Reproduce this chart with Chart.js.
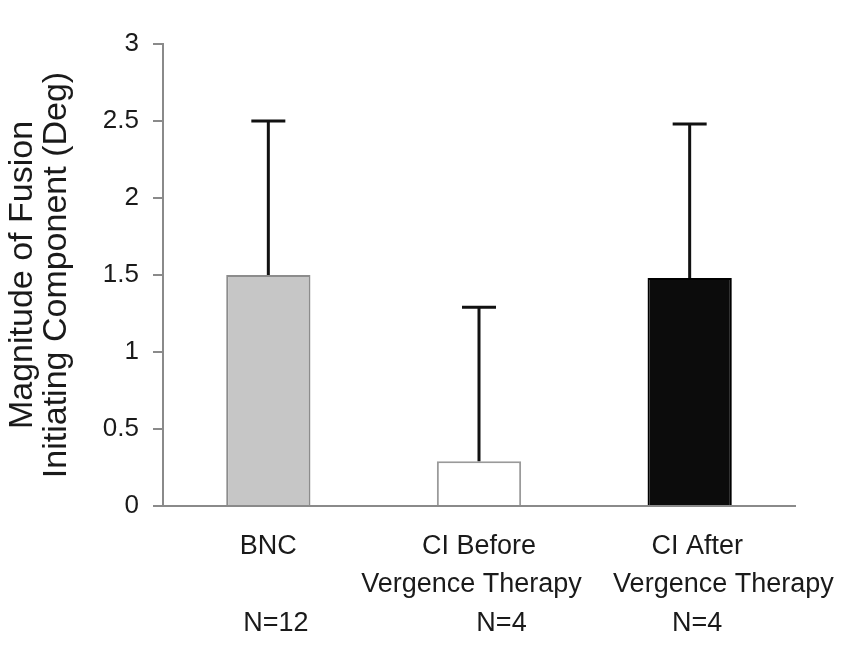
<!DOCTYPE html>
<html>
<head>
<meta charset="utf-8">
<script src="https://cdn.jsdelivr.net/npm/chart.js"></script>
<style>
  html, body { margin: 0; padding: 0; background: #fff; }
  #wrap { width: 850px; height: 647px; }
</style>
</head>
<body>
<div id="wrap"><canvas id="grafico"></canvas></div>
<script>
// data (spaces only nudge the lines the way the original sits)
const categories = [
    ['BNC', '', '  N=12'],
    ['CI Before', 'Vergence Therapy  ', '      N=4'],
    ['  CI After', '         Vergence Therapy', '  N=4']
];
const means = [1.5, 0.29, 1.48];
const errUpper = [2.5, 1.29, 2.48];
const yTickLabels = ['0', '0.5', '1', '1.5', '2', '2.5', '3'];

const barColors = ['#c6c6c6', '#ffffff', '#0c0c0c'];
const barBorders = ['#8c8c8c', '#9a9a9a', '#000000'];

// upward error bars with a cap, drawn through the y scale
const errorBars = {
    id: 'errorBars',
    afterDatasetsDraw(chart) {
        const c = chart.ctx;
        const meta = chart.getDatasetMeta(0);
        const y = chart.scales.y;
        c.save();
        c.strokeStyle = '#111';
        c.lineWidth = 3;
        meta.data.forEach((bar, i) => {
            const top = y.getPixelForValue(errUpper[i]);
            c.beginPath();
            c.moveTo(bar.x, bar.y);
            c.lineTo(bar.x, top);
            c.moveTo(bar.x - 17, top);
            c.lineTo(bar.x + 17, top);
            c.stroke();
        });
        c.restore();
    }
};

const ctx = document.getElementById('grafico');

new Chart(ctx, {
    type: 'bar',
    data: {
    labels: categories,
    datasets: [{
        data: means,
        backgroundColor: barColors,
        borderColor: barBorders,
        borderWidth: 2,
        borderSkipped: 'bottom',
        barPercentage: 0.4,
        categoryPercentage: 1.0
    }]
    },
    plugins: [errorBars],
    options: {
    responsive: true,
    maintainAspectRatio: false,
    animation: false,
    layout: { padding: { top: 44, right: 55, bottom: 0, left: 0 } },
    plugins: {
        legend: { display: false },
        tooltip: { enabled: false }
    },
    scales: {
        x: {
        grid: { display: false, drawTicks: false },
        border: { display: true, color: '#8a8a8a', width: 2 },
        ticks: {
            color: '#1a1a1a',
            padding: 21,
            maxRotation: 0,
            autoSkip: false,
            font: { family: 'Liberation Sans, Arial, sans-serif', size: 27, lineHeight: 1.43 }
        },
        afterFit(scale) {
            scale.height = 141;
            scale.paddingLeft = 0;
            scale.paddingRight = 0;
        }
        },
        y: {
        min: 0,
        max: 3,
        ticks: {
            stepSize: 0.5,
            color: '#1a1a1a',
            padding: 14,
            font: { family: 'Liberation Sans, Arial, sans-serif', size: 26 },
            callback: (v, i) => yTickLabels[i]
        },
        grid: { drawOnChartArea: false, tickLength: 10, color: '#8a8a8a', lineWidth: 2 },
        border: { display: true, color: '#8a8a8a', width: 2 },
        title: {
            display: true,
            text: ['Magnitude of Fusion', 'Initiating Component (Deg)'],
            color: '#1a1a1a',
            padding: { top: 6, bottom: 0 },
            font: { family: 'Liberation Sans, Arial, sans-serif', size: 34, lineHeight: 1.0 }
        },
        afterFit(scale) { scale.width = 163; }
        }
    }
    }
});
</script>
</body>
</html>
